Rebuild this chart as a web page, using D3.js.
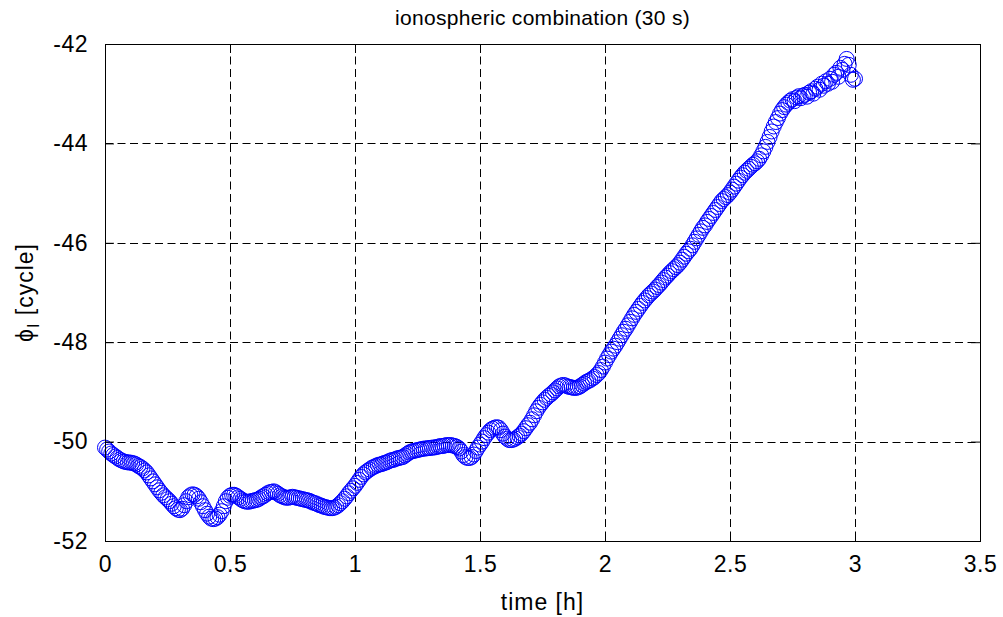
<!DOCTYPE html>
<html>
<head>
<meta charset="utf-8">
<script src="https://cdn.jsdelivr.net/npm/d3@7"></script>
<style>
  body { margin: 0; background: #fff; }
  text { font-family: "Liberation Sans", Arial, Helvetica, sans-serif; fill: #000; }
</style>
</head>
<body>
<div id="chart"></div>
<script>
// Sampling: one epoch every 30 s, starting at t = 0 h
const sampleSeconds = 30;

// phi_I [cycle], one value per epoch (rows of 12 = 0.1 h)
const phiI = [
  -50.12,-50.16,-50.20,-50.24,-50.27,-50.30,-50.33,-50.36,-50.38,-50.40,-50.41,-50.42,
  -50.42,-50.43,-50.44,-50.46,-50.49,-50.51,-50.54,-50.58,-50.62,-50.68,-50.74,-50.80,
  -50.86,-50.92,-50.98,-51.03,-51.08,-51.12,-51.16,-51.20,-51.25,-51.30,-51.34,-51.37,
  -51.38,-51.35,-51.28,-51.20,-51.12,-51.08,-51.06,-51.07,-51.10,-51.15,-51.22,-51.30,
  -51.38,-51.45,-51.51,-51.55,-51.56,-51.55,-51.52,-51.47,-51.40,-51.30,-51.20,-51.13,
  -51.09,-51.07,-51.07,-51.09,-51.12,-51.15,-51.18,-51.20,-51.21,-51.21,-51.20,-51.19,
  -51.18,-51.17,-51.15,-51.12,-51.10,-51.07,-51.04,-51.02,-51.01,-51.00,-51.02,-51.05,
  -51.08,-51.10,-51.12,-51.13,-51.13,-51.12,-51.11,-51.12,-51.13,-51.14,-51.15,-51.16,
  -51.17,-51.18,-51.19,-51.21,-51.23,-51.24,-51.26,-51.28,-51.29,-51.31,-51.32,-51.33,
  -51.34,-51.34,-51.33,-51.31,-51.28,-51.24,-51.20,-51.15,-51.10,-51.04,-50.99,-50.94,
  -50.89,-50.83,-50.77,-50.71,-50.66,-50.62,-50.59,-50.56,-50.53,-50.51,-50.49,-50.47,
  -50.46,-50.45,-50.43,-50.42,-50.40,-50.38,-50.37,-50.36,-50.34,-50.33,-50.32,-50.31,
  -50.28,-50.25,-50.22,-50.20,-50.19,-50.18,-50.17,-50.16,-50.15,-50.14,-50.14,-50.13,
  -50.13,-50.12,-50.12,-50.11,-50.10,-50.09,-50.09,-50.08,-50.07,-50.07,-50.07,-50.08,
  -50.09,-50.11,-50.14,-50.20,-50.27,-50.31,-50.33,-50.33,-50.31,-50.26,-50.19,-50.12,
  -50.06,-50.00,-49.93,-49.87,-49.82,-49.77,-49.74,-49.72,-49.71,-49.72,-49.77,-49.84,
  -49.90,-49.94,-49.97,-49.97,-49.96,-49.94,-49.91,-49.88,-49.84,-49.79,-49.73,-49.67,
  -49.62,-49.55,-49.47,-49.39,-49.32,-49.26,-49.21,-49.16,-49.12,-49.08,-49.05,-49.01,
  -48.97,-48.93,-48.89,-48.87,-48.86,-48.87,-48.89,-48.90,-48.91,-48.92,-48.92,-48.91,
  -48.89,-48.86,-48.83,-48.80,-48.78,-48.76,-48.73,-48.70,-48.66,-48.62,-48.56,-48.49,
  -48.41,-48.33,-48.26,-48.19,-48.13,-48.07,-48.00,-47.93,-47.86,-47.79,-47.73,-47.66,
  -47.59,-47.52,-47.45,-47.39,-47.33,-47.27,-47.21,-47.16,-47.11,-47.06,-47.02,-46.98,
  -46.94,-46.89,-46.85,-46.80,-46.75,-46.70,-46.66,-46.61,-46.57,-46.53,-46.49,-46.45,
  -46.40,-46.34,-46.28,-46.22,-46.17,-46.12,-46.05,-45.98,-45.91,-45.84,-45.77,-45.70,
  -45.65,-45.58,-45.52,-45.46,-45.40,-45.34,-45.28,-45.22,-45.16,-45.12,-45.08,-45.04,
  -44.99,-44.93,-44.87,-44.81,-44.75,-44.69,-44.64,-44.59,-44.55,-44.51,-44.47,-44.43,
  -44.40,-44.36,-44.31,-44.24,-44.16,-44.07,-43.97,-43.87,-43.76,-43.66,-43.57,-43.49,
  -43.40,-43.33,-43.27,-43.22,-43.18,-43.14,-43.11,-43.15,-43.08,-43.05,-43.09,-43.04,
  -43.02,-43.06,-42.98,-42.95,-43.00,-42.90,-42.86,-42.92,-42.80,-42.84,-42.75,-42.80,
  -42.70,-42.76,-42.62,-42.58,-42.66,-42.48,-42.52,-42.40,-42.30,-42.42,-42.62,-42.72,
  -42.70
];

// Axis ticks
const xTicks = [0, 0.5, 1, 1.5, 2, 2.5, 3, 3.5];
const yTicks = [-52, -50, -48, -46, -44, -42];

const width = 1003, height = 617;
const margin = { top: 44, right: 23, bottom: 76, left: 105 };
const innerW = width - margin.left - margin.right;
const innerH = height - margin.top - margin.bottom;

const svg = d3.select("#chart").append("svg")
  .attr("width", width)
  .attr("height", height);

const g = svg.append("g")
  .attr("transform", `translate(${margin.left},${margin.top})`);

const x = d3.scaleLinear().domain([0, 3.5]).range([0, innerW]);
const y = d3.scaleLinear().domain([-52, -42]).range([innerH, 0]);

// grid (dashed)
g.selectAll(".gx")
  .data(xTicks.slice(1, -1))
  .join("line")
    .attr("x1", d => Math.round(x(d)) + 0.5).attr("x2", d => Math.round(x(d)) + 0.5)
    .attr("y1", 0).attr("y2", innerH)
    .attr("stroke", "#000").attr("stroke-width", 1)
    .attr("stroke-dasharray", "8,4.5");

g.selectAll(".gy")
  .data(yTicks.slice(1, -1))
  .join("line")
    .attr("y1", d => Math.round(y(d)) + 0.5).attr("y2", d => Math.round(y(d)) + 0.5)
    .attr("x1", 0).attr("x2", innerW)
    .attr("stroke", "#000").attr("stroke-width", 1)
    .attr("stroke-dasharray", "8,4.5");

// data points
g.append("g")
  .selectAll("circle")
  .data(phiI)
  .join("circle")
    .attr("cx", (d, i) => x(i * sampleSeconds / 3600))
    .attr("cy", d => y(d))
    .attr("r", 7.5)
    .attr("fill", "none")
    .attr("stroke", "#0000ff")
    .attr("stroke-width", 1);

// axes (ticks inward, MATLAB style), plain hyphen for minus
const fmt = d => String(d);
const tickLen = 9;
const xAxisB = d3.axisBottom(x).tickValues(xTicks).tickSizeInner(-tickLen).tickSizeOuter(0)
  .tickFormat(fmt).tickPadding(15);
const yAxisL = d3.axisLeft(y).tickValues(yTicks).tickSizeInner(-tickLen).tickSizeOuter(0)
  .tickFormat(fmt).tickPadding(17);

const gxB = g.append("g").attr("transform", `translate(0,${innerH})`).call(xAxisB);
const gyL = g.append("g").call(yAxisL);
const gxT = g.append("g").call(d3.axisTop(x).tickValues(xTicks).tickSizeInner(-tickLen).tickSizeOuter(0).tickFormat(""));
const gyR = g.append("g").attr("transform", `translate(${innerW},0)`)
  .call(d3.axisRight(y).tickValues(yTicks).tickSizeInner(-tickLen).tickSizeOuter(0).tickFormat(""));

[gxB, gyL, gxT, gyR].forEach(a => {
  a.select(".domain").remove();
  a.selectAll(".tick line").attr("stroke", "#000");
  a.selectAll("text")
    .style("font-family", "'Liberation Sans', Arial, sans-serif")
    .style("font-size", "23px")
    .style("letter-spacing", "0.5px")
    .attr("fill", "#000");
});

// box
g.append("rect")
  .attr("x", 0.5).attr("y", 0.5)
  .attr("width", innerW).attr("height", innerH)
  .attr("fill", "none").attr("stroke", "#000").attr("stroke-width", 1);

// title
svg.append("text")
  .attr("x", margin.left + innerW / 2)
  .attr("y", 25)
  .attr("text-anchor", "middle")
  .style("font-size", "21px")
  .style("letter-spacing", "0.3px")
  .text("ionospheric combination (30 s)");

// x label
svg.append("text")
  .attr("x", margin.left + innerW / 2)
  .attr("y", 610)
  .attr("text-anchor", "middle")
  .style("font-size", "23px")
  .style("letter-spacing", "1px")
  .text("time [h]");

// y label: phi_I [cycle]
const yl = svg.append("text")
  .attr("transform", `translate(33,${margin.top + innerH / 2}) rotate(-90)`)
  .attr("text-anchor", "middle")
  .style("font-size", "23px")
  .style("letter-spacing", "1px");
yl.append("tspan").text("\u03D5");
yl.append("tspan").attr("dy", 6).style("font-size", "16px").text("I");
yl.append("tspan").attr("dy", -6).text(" [cycle]");
</script>
</body>
</html>
